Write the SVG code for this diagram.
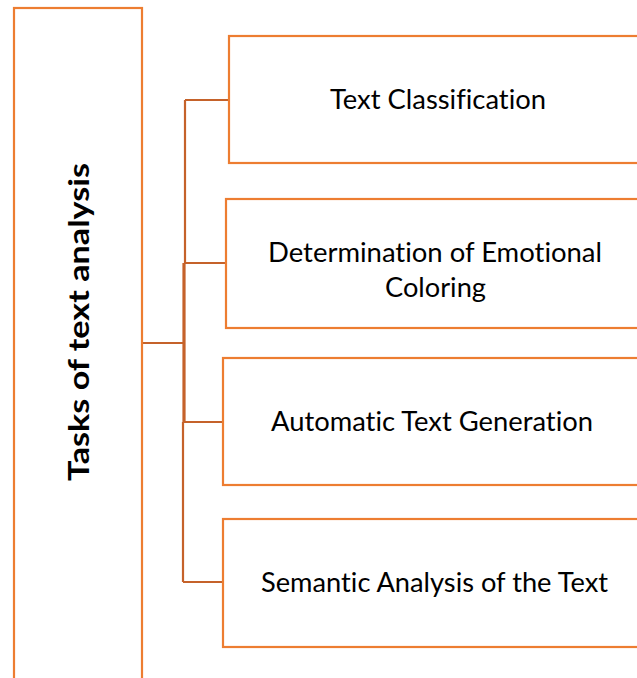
<svg xmlns="http://www.w3.org/2000/svg" width="637" height="678" viewBox="0 0 637 678">
<style>
.box{fill:#FFFFFF;stroke:#ED7D31;stroke-width:2.2}
.lbl{font-family:Lato,"Open Sans","Liberation Sans",sans-serif;font-size:26.4px;fill:#000000;text-anchor:middle;font-variant-ligatures:none;font-feature-settings:"liga" 0,"clig" 0,"dlig" 0}
.main{font-family:Lato,"Open Sans","Liberation Sans",sans-serif;font-size:29px;font-weight:bold;fill:#000000;text-anchor:middle;font-variant-ligatures:none;font-feature-settings:"liga" 0,"clig" 0,"dlig" 0}
.con{fill:none;stroke:#C5622A;stroke-width:2.2}
</style>
<rect width="637" height="678" fill="#FFFFFF"/>
<g id="connectors">
<path class="con" d="M142,343 H184"/>
<path class="con" d="M185,100 V263"/>
<path class="con" d="M184,263 V422" style="stroke-width:3.2"/>
<path class="con" d="M183,422 V582"/>
<path class="con" d="M185,100 H229"/>
<path class="con" d="M184,263 H226"/>
<path class="con" d="M183,422 H223"/>
<path class="con" d="M183,582 H223"/>
</g>
<g id="root">
<rect class="box" x="14" y="8" width="128" height="690"/>
<text class="main" transform="translate(89,322) rotate(-90)" textLength="318" lengthAdjust="spacingAndGlyphs">Tasks of text analysis</text>
</g>
<g id="n1">
<rect class="box" x="229" y="36" width="430" height="127"/>
<text class="lbl" x="438" y="109" textLength="216" lengthAdjust="spacingAndGlyphs">Text Classification</text>
</g>
<g id="n2">
<rect class="box" x="226" y="199" width="430" height="129"/>
<text class="lbl" x="435" y="262" textLength="334" lengthAdjust="spacingAndGlyphs">Determination of Emotional</text>
<text class="lbl" x="435.5" y="297" textLength="101" lengthAdjust="spacingAndGlyphs">Coloring</text>
</g>
<g id="n3">
<rect class="box" x="223" y="358" width="430" height="127"/>
<text class="lbl" x="432" y="431" textLength="322" lengthAdjust="spacingAndGlyphs">Automatic Text Generation</text>
</g>
<g id="n4">
<rect class="box" x="223" y="519" width="430" height="128"/>
<text class="lbl" x="434.5" y="592" textLength="347" lengthAdjust="spacingAndGlyphs">Semantic Analysis of the Text</text>
</g>
</svg>
